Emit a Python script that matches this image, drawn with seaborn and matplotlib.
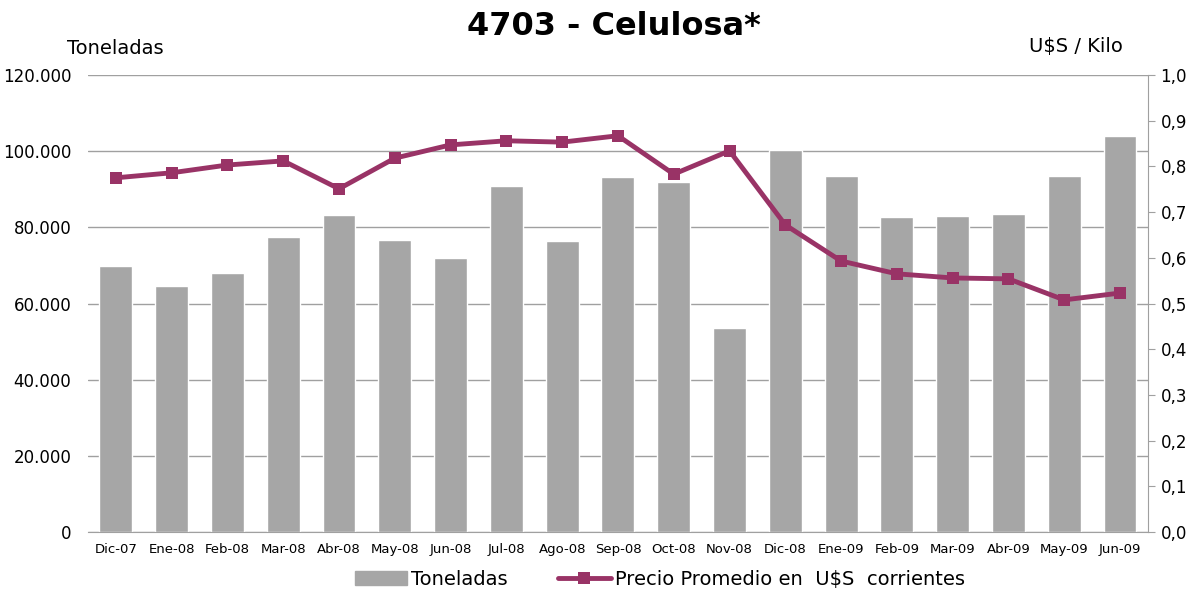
import numpy as np
import pandas as pd
import matplotlib
matplotlib.use("Agg")
import matplotlib.pyplot as plt
import seaborn as sns
from matplotlib.ticker import FuncFormatter, MultipleLocator
from matplotlib.lines import Line2D
from matplotlib.patches import Patch

# data
meses = ["Dic-07", "Ene-08", "Feb-08", "Mar-08", "Abr-08", "May-08", "Jun-08",
         "Jul-08", "Ago-08", "Sep-08", "Oct-08", "Nov-08", "Dic-08", "Ene-09",
         "Feb-09", "Mar-09", "Abr-09", "May-09", "Jun-09"]
toneladas = [69800, 64600, 68000, 77500, 83200, 76700, 71900, 90900, 76400, 93200,
             91900, 53600, 100300, 93500, 82700, 83000, 83500, 93500, 104000]
precio = [0.775, 0.786, 0.803, 0.812, 0.751, 0.818, 0.847, 0.856, 0.853, 0.867,
          0.783, 0.834, 0.672, 0.593, 0.565, 0.556, 0.554, 0.508, 0.523]

df = pd.DataFrame({"mes": meses, "toneladas": toneladas, "precio": precio})
df["pos"] = np.arange(len(df))

bar_color = "#a6a6a6"
line_color = "#993366"
grid_color = "#a0a0a0"

sns.set_style("white")
plt.rcParams['font.family'] = ['DejaVu Sans']
plt.rcParams['text.color'] = 'black'
plt.rcParams['xtick.color'] = 'black'
plt.rcParams['ytick.color'] = 'black'

fig, ax = plt.subplots(figsize=(11.97, 5.90), dpi=100)
fig.subplots_adjust(left=0.0735, right=0.959, top=0.873, bottom=0.098)

sns.barplot(data=df, x="mes", y="toneladas", color=bar_color, width=0.59,
            saturation=1, ax=ax, zorder=2)
ax.set_xlim(-0.5, len(df) - 0.5)
ax.set_ylim(0, 120000)
ax.yaxis.set_major_locator(MultipleLocator(20000))
ax.yaxis.set_major_formatter(FuncFormatter(lambda v, p: f"{int(v):,}".replace(",", ".")))
ax.grid(axis="y", color=grid_color, linewidth=1, zorder=0)
ax.set_axisbelow(True)
ax.set_xlabel("")
ax.set_ylabel("")
for s in ["top", "left", "right"]:
    ax.spines[s].set_visible(False)
ax.spines["bottom"].set_color(grid_color)
ax.tick_params(axis="y", length=0, labelsize=12, pad=12, labelcolor="black")
ax.tick_params(axis="x", length=0, labelsize=9.5, pad=8, labelcolor="black")

ax2 = ax.twinx()
sns.lineplot(data=df, x="pos", y="precio", color=line_color, linewidth=3.5,
             marker="s", markersize=8, markeredgewidth=0, sort=False, ax=ax2, zorder=3)
ax2.set_ylim(0, 1.0)
ax2.yaxis.set_major_locator(MultipleLocator(0.1))
ax2.yaxis.set_major_formatter(FuncFormatter(lambda v, p: f"{v:.1f}".replace(".", ",")))
ax2.set_xlabel("")
ax2.set_ylabel("")
for s in ["top", "left", "bottom"]:
    ax2.spines[s].set_visible(False)
ax2.spines["right"].set_color(grid_color)
ax2.tick_params(axis="y", length=5, color=grid_color, labelsize=12, pad=4,
                labelcolor="black")
ax.set_xlim(-0.5, len(df) - 0.5)

fig.text(0.513, 0.955, "4703 - Celulosa*", ha="center", va="center",
         fontsize=23, fontweight="bold", color="black")
fig.text(0.056, 0.918, "Toneladas", ha="left", va="center", fontsize=14, color="black")
fig.text(0.938, 0.921, "U$S / Kilo", ha="right", va="center", fontsize=14, color="black")

handles = [Patch(color=bar_color),
           Line2D([0], [0], color=line_color, linewidth=3.5, marker="s",
                  markersize=8, markeredgewidth=0)]
fig.legend(handles, ["Toneladas", "Precio Promedio en  U$S  corrientes"],
           loc="center", bbox_to_anchor=(0.551, 0.018), ncol=2, frameon=False,
           fontsize=14, handlelength=2.7, columnspacing=2.6, handletextpad=0.2,
           labelcolor="black")

fig.savefig("out.png", dpi=100)
